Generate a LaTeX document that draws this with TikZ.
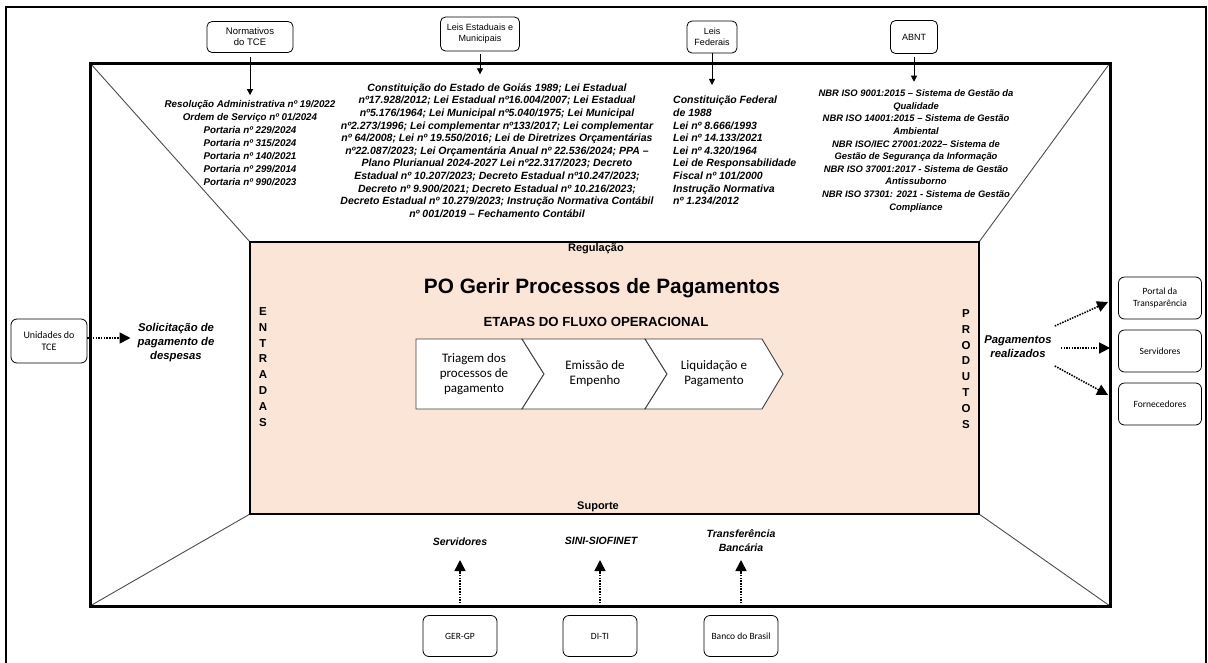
\documentclass[tikz,border=0pt]{standalone}
\usepackage{fontspec}
\setmainfont{Liberation Sans}
\newfontfamily\calib{Carlito}
\usetikzlibrary{arrows.meta,calc}
\definecolor{peach}{RGB}{251,229,214}
\begin{document}
\begin{tikzpicture}[x=1pt,y=-1pt,
 src/.style={draw, rounded corners=5pt, line width=0.8pt, align=center, inner sep=1pt, font=\fontsize{9}{11}\selectfont},
 sbox/.style={draw, rounded corners=6pt, line width=0.8pt, align=center, inner sep=1pt, font=\calib\fontsize{9.5}{12}\selectfont},
 law/.style={align=center, font=\bfseries\itshape\fontsize{9.4}{12.6}\selectfont, inner sep=0pt},
 lbl/.style={align=center, font=\bfseries\itshape\fontsize{11.3}{14}\selectfont, inner sep=1pt},
 solidarrow/.style={-{Triangle[length=6pt,width=6pt]}, line width=0.8pt},
 dotarrow/.style={-{Triangle[length=11pt,width=11pt]}, line width=1.6pt, dash pattern=on 1.5pt off 1.2pt},
 chev/.style={draw=black!75, line width=0.9pt, fill=white},
 ctext/.style={align=center, font=\calib\fontsize{13}{15}\selectfont},
 vert/.style={align=center, font=\bfseries\fontsize{11.5}{15.9}\selectfont, inner sep=0pt},
 diag/.style={draw=black!70, line width=0.9pt},
]
\useasboundingbox (0,0) rectangle (1208,662);
\clip (0,0) rectangle (1208,662);
\fill[white] (0,0) rectangle (1208,662);
% outer frame
\draw[line width=2.2pt] (6,7) rectangle (1206,720);
% diagonals
\draw[diag] (90,63) -- (250,242);
\draw[diag] (1110,63) -- (979,242);
\draw[diag] (90,606) -- (250,514);
\draw[diag] (1110,606) -- (979,514);
% inner frame
\draw[line width=3pt] (90,63) rectangle (1110,606);
% peach
\draw[fill=peach, line width=1.4pt] (250,242) rectangle (979,514);

% top sources
\node[src, minimum width=86pt, minimum height=31pt, font=\fontsize{9.5}{11}\selectfont] (nTCE) at (250,37) {Normativos\\do TCE};
\node[src, minimum width=79pt, minimum height=34pt] (nEst) at (480,34) {Leis Estaduais e\\Municipais};
\node[src, minimum width=50pt, minimum height=32pt] (nFed) at (712,37) {Leis\\Federais};
\node[src, minimum width=47pt, minimum height=33pt] (nABNT) at (914,37) {ABNT};

\node[law, font=\bfseries\itshape\fontsize{9.8}{13}\selectfont] (tceLaw) at (250,143) {Resolução Administrativa nº 19/2022\\Ordem de Serviço nº 01/2024\\Portaria nº 229/2024\\Portaria nº 315/2024\\Portaria nº 140/2021\\Portaria nº 299/2014\\Portaria nº 990/2023};
\node[law, font=\bfseries\itshape\fontsize{10.5}{12.6}\selectfont] (estLaw) at (497,150.5) {Constituição do Estado de Goiás 1989; Lei Estadual\\nº17.928/2012; Lei Estadual nº16.004/2007; Lei Estadual\\nº5.176/1964; Lei Municipal nº5.040/1975; Lei Municipal\\nº2.273/1996; Lei complementar nº133/2017; Lei complementar\\nº 64/2008; Lei nº 19.550/2016; Lei de Diretrizes Orçamentárias\\nº22.087/2023; Lei Orçamentária Anual nº 22.536/2024; PPA –\\Plano Plurianual 2024-2027 Lei nº22.317/2023; Decreto\\Estadual nº 10.207/2023; Decreto Estadual nº10.247/2023;\\Decreto nº 9.900/2021; Decreto Estadual nº 10.216/2023;\\Decreto Estadual nº 10.279/2023; Instrução Normativa Contábil\\nº 001/2019 – Fechamento Contábil};
\node[law, align=left, anchor=west, font=\bfseries\itshape\fontsize{10.5}{12.6}\selectfont] (fedLaw) at (673,150.5) {Constituição Federal\\de 1988\\Lei nº 8.666/1993\\Lei nº 14.133/2021\\Lei nº 4.320/1964\\Lei de Responsabilidade\\Fiscal nº 101/2000\\Instrução Normativa\\nº 1.234/2012};
\node[law] (abntLaw) at (916,151) {NBR ISO 9001:2015 – Sistema de Gestão da\\Qualidade\\NBR ISO 14001:2015 – Sistema de Gestão\\Ambiental\\NBR ISO/IEC 27001:2022– Sistema de\\Gestão de Segurança da Informação\\NBR ISO 37001:2017 - Sistema de Gestão\\Antissuborno\\NBR ISO 37301: 2021 - Sistema de Gestão\\Compliance};

\draw[solidarrow, shorten <=4pt, shorten >=5pt] (nTCE.south) -- (nTCE.south |- tceLaw.north);
\draw[solidarrow, shorten <=3pt, shorten >=9pt] (nEst.south) -- (nEst.south |- estLaw.north);
\draw[solidarrow, shorten >=11pt] (nFed.south) -- (nFed.south |- fedLaw.north);
\draw[solidarrow, shorten <=3pt, shorten >=8pt] (nABNT.south) -- (nABNT.south |- abntLaw.north);

% center contents
\node[font=\bfseries\fontsize{11}{13}\selectfont] (reg) at (596,249) {Regulação};
\node[font=\bfseries\fontsize{20.8}{24}\selectfont] (title) at (602,288) {PO Gerir Processos de Pagamentos};
\node[font=\bfseries\fontsize{13.2}{15}\selectfont] (etapas) at (596,322) {ETAPAS DO FLUXO OPERACIONAL};
\node[font=\bfseries\fontsize{11}{13}\selectfont] (sup) at (598,507) {Suporte};

\draw[chev] (416,339) -- (522,339) -- (544,374) -- (522,409) -- (416,409) -- cycle;
\draw[chev] (522,339) -- (645,339) -- (667,374) -- (645,409) -- (522,409) -- (544,374) -- cycle;
\draw[chev] (645,339) -- (762,339) -- (783,374) -- (762,409) -- (645,409) -- (667,374) -- cycle;
\node[ctext] (c1) at (474,374) {Triagem dos\\processos de\\pagamento};
\node[ctext] (c2) at (595,374) {Emissão de\\Empenho};
\node[ctext] (c3) at (714,374) {Liquidação e\\Pagamento};

\node[vert] (ent) at (263,367) {E\\N\\T\\R\\A\\D\\A\\S};
\node[vert] (prod) at (966,369) {P\\R\\O\\D\\U\\T\\O\\S};

% left input
\node[sbox, minimum width=76pt, minimum height=44pt, font=\calib\fontsize{10}{12.5}\selectfont] (unid) at (49,341) {Unidades do\\TCE};
\node[lbl] (sol) at (176,343) {Solicitação de\\pagamento de\\despesas};
\draw[dotarrow, shorten >=6pt] (unid.east |- 0,338) -- (sol.west |- 0,338);

% right outputs
\node[lbl] (pag) at (1018,347) {Pagamentos\\realizados};
\node[sbox, minimum width=83pt, minimum height=42pt] (portal) at (1160,298) {Portal da\\Transparência};
\node[sbox, minimum width=83pt, minimum height=42pt] (serv) at (1160,351) {Servidores};
\node[sbox, minimum width=83pt, minimum height=42pt] (forn) at (1160,404) {Fornecedores};
\draw[dotarrow] ($(pag.east)+(2,-21)$) -- ($(portal.west)+(-10,4)$);
\draw[dotarrow] ($(pag.east)+(8,1)$) -- ($(serv.west)+(-8,-3)$);
\draw[dotarrow] ($(pag.east)+(2,19)$) -- ($(forn.west)+(-10,-9)$);

% bottom support
\node[lbl, font=\bfseries\itshape\fontsize{10.5}{14}\selectfont] (bServ) at (460,542) {Servidores};
\node[lbl, font=\bfseries\itshape\fontsize{10.5}{14}\selectfont] (bSini) at (601,541) {SINI-SIOFINET};
\node[lbl, font=\bfseries\itshape\fontsize{10.5}{14}\selectfont] (bTrans) at (741,541) {Transferência\\Bancária};
\node[sbox, minimum width=74pt, minimum height=41pt] (ger) at (460,636) {GER-GP};
\node[sbox, minimum width=74pt, minimum height=41pt] (diti) at (600,636) {DI-TI};
\node[sbox, minimum width=74pt, minimum height=41pt] (bb) at (741,636) {Banco do Brasil};
\draw[dotarrow, shorten <=9pt] (ger.north) -- (ger.north |- 0,560);
\draw[dotarrow, shorten <=9pt] (diti.north) -- (diti.north |- 0,560);
\draw[dotarrow, shorten <=9pt] (bb.north) -- (bb.north |- 0,560);
\end{tikzpicture}
\end{document}
